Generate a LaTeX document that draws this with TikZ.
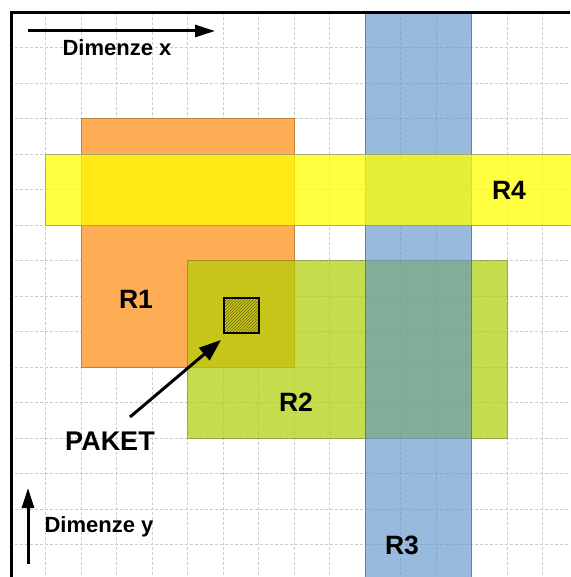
\documentclass[tikz,border=0pt]{standalone}
\usepackage{fontspec}
\setmainfont{Liberation Sans}
\usetikzlibrary{arrows.meta,patterns}
\definecolor{rone}{RGB}{255,173,85}
\definecolor{rtwo}{RGB}{177,206,3}
\definecolor{rthree}{RGB}{92,146,200}
\definecolor{rfour}{RGB}{255,255,0}
\definecolor{hatchc}{RGB}{110,105,10}
\begin{document}
\begin{tikzpicture}[x=1pt,y=-1pt,
  lbl/.style={font=\fontsize{26.5}{26.5}\selectfont\bfseries, inner sep=0pt},
  paketlbl/.style={font=\fontsize{27}{27}\selectfont\bfseries, inner sep=0pt},
  dimlbl/.style={font=\fontsize{22}{22}\selectfont\bfseries, inner sep=0pt},
  gridline/.style={draw=black!20, line width=0.8pt, dash pattern=on 3pt off 2pt},
  region/.style={line width=0.6pt},
  bigarrow/.style={line width=3pt, -{Triangle[length=20pt,width=12pt]}}]
\fill[white] (0,0) rectangle (570,577);
\useasboundingbox (0,0) rectangle (570,577);
\foreach \k in {1,...,15} {
  \draw[gridline] ({10+35.5*\k},12) -- ({10+35.5*\k},577);
  \draw[gridline] (10,{12+35.5*\k}) -- (570,{12+35.5*\k});
}
% R1
\filldraw[region, fill=rone, draw=rone!75!black] (81,118.5) rectangle (294,367);
% R2
\filldraw[region, fill=rtwo, fill opacity=0.71, draw=rtwo!60!black, draw opacity=0.6] (187.5,260.5) rectangle (507,438);
% R3
\filldraw[region, fill=rthree, fill opacity=0.63, draw=rthree!60!black, draw opacity=0.5] (365,13) rectangle (471.5,577);
% R4
\filldraw[region, fill=rfour, fill opacity=0.75, draw=black!45, draw opacity=0.7] (45.5,154) rectangle (572,225);
% border
\draw[line width=3pt, line join=miter] (11,577) -- (11,13) -- (570,13);
% packet
\node[draw, line width=2pt, minimum size=35pt, inner sep=0pt, pattern=north east lines, pattern color=hatchc] (box) at (241,315) {};
% labels
\node[lbl] (r1) at (136,299) {R1};
\node[lbl] (r2) at (296,402) {R2};
\node[lbl] (r3) at (402,545) {R3};
\node[lbl] (r4) at (509,190) {R4};
\node[paketlbl] (paket) at (110,441) {PAKET};
\node[dimlbl] (dx) at (117,48) {Dimenze x};
\node[dimlbl] (dy) at (99,527) {Dimenze y};
% arrows
\coordinate (xs) at (28,31);
\coordinate (xe) at (215,31);
\coordinate (ys) at (28,564);
\coordinate (ye) at (28,488);
\coordinate (ps) at (130,417);
\coordinate (pe) at (221,340);
\draw[bigarrow] (xs) -- (xe);
\draw[bigarrow] (ys) -- (ye);
\draw[line width=3pt, -{Triangle[length=22pt,width=16pt]}] (ps) -- (pe);
\end{tikzpicture}
\end{document}
